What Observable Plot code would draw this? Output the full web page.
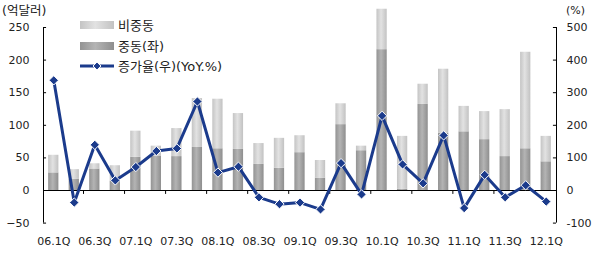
<!DOCTYPE html>
<html><head><meta charset="utf-8">
<script src="https://cdn.jsdelivr.net/npm/d3@7"></script>
<script src="https://cdn.jsdelivr.net/npm/@observablehq/plot@0.6"></script>
<style>
body{margin:0;background:#fff;overflow:hidden}
#chart{position:relative;width:594px;height:255px}
svg{font-family:"DejaVu Sans","Noto Sans CJK KR",sans-serif}
</style>
</head><body><div id="chart"></div>
<script>
const quarters = ["06.1Q","06.2Q","06.3Q","06.4Q","07.1Q","07.2Q","07.3Q","07.4Q","08.1Q","08.2Q","08.3Q","08.4Q","09.1Q","09.2Q","09.3Q","09.4Q","10.1Q","10.2Q","10.3Q","10.4Q","11.1Q","11.2Q","11.3Q","11.4Q","12.1Q"];
const midEast    = [27,17,33,14,51,53,52,66,64,63,40,34,58,19,101,61,216,2,132,88,90,78,52,64,44];
const nonMidEast = [27,15,8,24,40,15,43,75,76,55,32,46,26,27,32,7,62,81,31,98,39,43,72,148,39];
const growth     = [338,-37,140,31,72,121,129,273,55,73,-21,-42,-37,-58,84,-12,229,80,22,169,-54,48,-21,16,-34];
const xTickLabels = ["06.1Q","06.3Q","07.1Q","07.3Q","08.1Q","08.3Q","09.1Q","09.3Q","10.1Q","10.3Q","11.1Q","11.3Q","12.1Q"];
const leftTicks  = [-50,0,50,100,150,200,250];
const rightTicks = [-100,0,100,200,300,400,500];
const seriesNames = ["비중동","중동(좌)","증가율(우)(YoY.%)"];
const unitLeft = "(억달러)";
const unitRight = "(%)";

const rows = quarters.map((q,i)=>({i, q, me: midEast[i], non: nonMidEast[i], g: growth[i]}));
const navy = "#1b3b8c";
const n = quarters.length;
const half = 0.25;               // half bar width, in category units
const xEdges = [-0.5, n - 0.5];  // plot frame edges
const xTickPos = xTickLabels.map(l => quarters.indexOf(l));
const xBoundaryTicks = xTickPos.slice(1).map(i => i - 0.5 - 0.05);
const tickLenY = 6;              // length of the small ticks, in left-axis units
const tickLenX = 0.15;           // length of the small ticks, in category units

const plot = Plot.plot({
  width: 594, height: 255,
  marginLeft: 43, marginRight: 38, marginTop: 27, marginBottom: 32.4,
  style: {fontFamily: '"DejaVu Sans","Noto Sans CJK KR",sans-serif', fontSize: "11px", color: "#222", background: "#fff", overflow: "visible"},
  x: {type: "linear", domain: xEdges, label: null},
  y: {domain: [-50, 250], label: null},
  marks: [
    Plot.rectY(rows, {x1: d => d.i - half, x2: d => d.i + half, y1: 0, y2: "me", fill: "url(#gDark)"}),
    Plot.rectY(rows, {x1: d => d.i - half, x2: d => d.i + half, y1: "me", y2: d => d.me + d.non, fill: "url(#gLight)"}),
    Plot.ruleY([0], {stroke: "#000", strokeWidth: 1}),
    Plot.ruleX(xEdges, {y1: -50, y2: 250, stroke: "#000", strokeWidth: 1}),
    Plot.ruleY(leftTicks, {x1: xEdges[0], x2: xEdges[0] + tickLenX, stroke: "#000"}),
    Plot.ruleY(leftTicks, {x1: xEdges[1] - tickLenX, x2: xEdges[1], stroke: "#000"}),
    Plot.ruleX(xBoundaryTicks, {y1: 0, y2: -tickLenY, stroke: "#000"}),
    Plot.line(rows, {x: "i", y: d => d.g / 2, stroke: navy, strokeWidth: 3, curve: "linear"}),
    Plot.dot(rows, {x: "i", y: d => d.g / 2, symbol: "diamond2", r: 4.2, fill: navy, stroke: "#fff", strokeWidth: 1}),
    Plot.axisY({anchor: "left", ticks: leftTicks, tickSize: 0, tickPadding: 14, fontSize: 11}),
    Plot.axisY({anchor: "right", ticks: leftTicks, tickFormat: d => rightTicks[leftTicks.indexOf(d)], tickSize: 0, tickPadding: 10, fontSize: 11}),
    Plot.axisX({anchor: "bottom", ticks: xTickPos, tickFormat: i => quarters[i], tickSize: 0, tickPadding: 14, fontSize: 11})
  ]
});

document.getElementById("chart").appendChild(plot);
const svg = d3.select(plot);
const defs = svg.insert("defs", ":first-child");
function grad(id, stops){
  const g = defs.append("linearGradient").attr("id", id).attr("x1","0").attr("x2","1").attr("y1","0").attr("y2","0");
  stops.forEach(([o,c]) => g.append("stop").attr("offset", o).attr("stop-color", c));
}
grad("gLight", [[0,"#c4c4c4"],[0.45,"#e2e2e2"],[1,"#c2c2c2"]]);
grad("gDark",  [[0,"#939393"],[0.45,"#b4b4b4"],[1,"#8e8e8e"]]);

function txt(sel, x, y, s, size){
  return sel.append("text").attr("x", x).attr("y", y).attr("font-size", size)
    .attr("fill", "#222").attr("text-anchor", "start").text(s);
}
txt(svg, 2, 15, unitLeft, 12.5);
txt(svg, 566, 14, unitRight, 11);
const lg = svg.append("g");
const lx = 80, lw = 34, tx = 118;
const ly = [25, 46, 66];
lg.append("rect").attr("x", lx).attr("y", ly[0]-4).attr("width", lw).attr("height", 8).attr("fill", "url(#gLight)");
lg.append("rect").attr("x", lx).attr("y", ly[1]-4).attr("width", lw).attr("height", 8).attr("fill", "url(#gDark)");
lg.append("line").attr("x1", lx).attr("x2", lx+lw).attr("y1", ly[2]).attr("y2", ly[2]).attr("stroke", navy).attr("stroke-width", 3);
lg.append("path").attr("d", d3.symbol(d3.symbolDiamond2, 40)()).attr("transform", `translate(${lx+lw/2},${ly[2]})`).attr("fill", navy).attr("stroke", "#fff").attr("stroke-width", 1);
seriesNames.forEach((s, i) => {
  txt(lg, tx, ly[i], s, 13).attr("dy", "0.36em");
});
</script>
</body></html>
